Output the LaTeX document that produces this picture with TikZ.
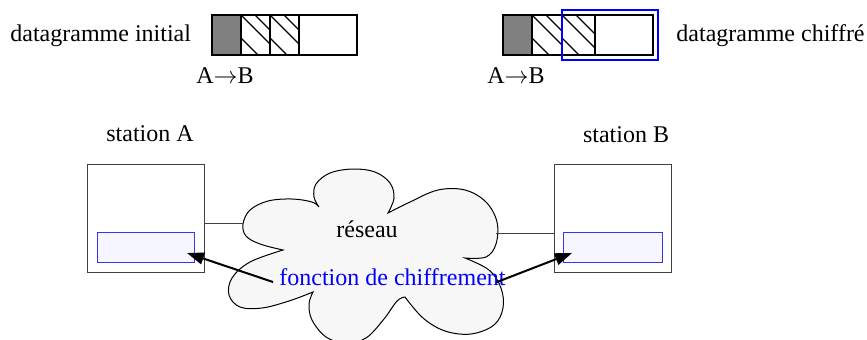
\documentclass[tikz,border=0pt]{standalone}
\usepackage{fontspec}
\setmainfont{Liberation Serif}
\usetikzlibrary{arrows.meta}
\definecolor{cloudfill}{HTML}{F7F7F7}
\definecolor{innerfill}{HTML}{F5F6FF}
\definecolor{innerblue}{HTML}{3333FF}
\definecolor{cellgray}{HTML}{808080}
\definecolor{boxgray}{HTML}{404040}
\begin{document}
\begin{tikzpicture}[x=0.5pt,y=-0.5pt,
  txt/.style={inner sep=0pt,font=\fontsize{12}{14}\selectfont},
  dgline/.style={line width=0.9pt,draw=black},
  hatch/.style={line width=0.7pt},
  stationbox/.style={draw=boxgray,line width=0.5pt,fill=white},
  innerbox/.style={draw=innerblue,line width=0.5pt,fill=innerfill},
  cloudshape/.style={draw=black,line width=0.5pt,fill=cloudfill},
  link/.style={draw=boxgray,line width=0.5pt},
  arr/.style={line width=1pt,-{Triangle[length=8.5pt,width=6pt]}},
  sel/.style={draw=blue,line width=0.9pt}
]
\useasboundingbox (0,0) rectangle (867,339);
\clip (0,0) rectangle (867,339);

% ---------- cloud ----------
\path[cloudshape]
  plot[smooth,tension=0.6] coordinates {(283,250) (260,244) (246,236) (243,224) (250,210) (268,201) (292,199) (312,202) (319,207)}
  -- plot[smooth,tension=0.6] coordinates {(319,207) (314,197) (316,184) (330,173) (353,169) (375,172) (390,183) (394,198) (388,213)}
  -- plot[smooth,tension=0.6] coordinates {(388,213) (410,202) (438,190) (465,190) (486,202) (497,222) (496,244) (486,257) (465,258)}
  -- plot[smooth,tension=0.6] coordinates {(465,258) (489,270) (501,288) (503,308) (494,325) (471,334) (445,331) (423,318) (405,297)}
  -- plot[smooth,tension=0.6] coordinates {(405,297) (397,301) (384,319) (366,338) (346,343) (326,337) (312,320) (309,304) (313,292)}
  -- plot[smooth,tension=0.6] coordinates {(313,292) (289,301) (262,308) (240,307) (229,295) (232,278) (250,262) (283,250)}
  -- cycle;

% ---------- stations ----------
\node[stationbox,anchor=north west,minimum width=58.5pt,minimum height=54pt,inner sep=0pt] (boxA) at (87,164) {};
\node[innerbox,anchor=north west,minimum width=48.5pt,minimum height=15pt,inner sep=0pt] (inA) at (97,232) {};
\node[stationbox,anchor=north west,minimum width=58.5pt,minimum height=54pt,inner sep=0pt] (boxB) at (554,164) {};
\node[innerbox,anchor=north west,minimum width=49.5pt,minimum height=15pt,inner sep=0pt] (inB) at (563,232) {};

\node[txt,anchor=base] (staA) at (150,141) {station A};
\node[txt,anchor=base] (staB) at (626,142) {station B};

% links to network
\coordinate (cloudL) at (243,223);
\coordinate (cloudR) at (496,233);
\draw[link] (boxA.east |- cloudL) -- (cloudL);
\draw[link] (cloudR) -- (boxB.west |- cloudR);

% ---------- texts in cloud ----------
\node[txt,anchor=base] (reseau) at (367,237) {réseau};
\node[txt,anchor=base west,text=blue] (fc) at (279,285) {fonction de chiffrement};

\coordinate (fcA) at (273,282);
\coordinate (fcB) at (497,282);
\coordinate (tipA) at (187,253);
\coordinate (tipB) at (572,253);
\draw[arr] (fcA) -- (tipA);
\draw[arr] (fcB) -- (tipB);

% ---------- initial datagram ----------
\node[txt,anchor=base west] (dginit) at (10,41) {datagramme initial};
\fill[cellgray] (212,15) rectangle (241,55);
\foreach \x in {241,270}{
  \begin{scope}
    \clip (\x,15) rectangle (\x+29,55);
    \draw[hatch] (\x,15) -- (\x+40,55);
    \draw[hatch] (\x+14,15) -- (\x+54,55);
    \draw[hatch] (\x,38) -- (\x+17,55);
  \end{scope}
}
\draw[dgline] (212,15) rectangle (357,55);
\draw[dgline] (241,15) -- (241,55);
\draw[dgline] (270,15) -- (270,55);
\draw[dgline] (299,15) -- (299,55);
\node[txt,anchor=base] (ab1) at (225,83) {A$\rightarrow$B};

% ---------- ciphered datagram ----------
\node[txt,anchor=base east] (dgchif) at (865,41) {datagramme chiffré};
\fill[cellgray] (503,15) rectangle (532,55);
\foreach \x/\w in {532/30,562/33}{
  \begin{scope}
    \clip (\x,15) rectangle (\x+\w,55);
    \draw[hatch] (\x,15) -- (\x+40,55);
    \draw[hatch] (\x+14,15) -- (\x+54,55);
    \draw[hatch] (\x,38) -- (\x+17,55);
  \end{scope}
}
\draw[dgline] (503,15) rectangle (653,55);
\draw[dgline] (532,15) -- (532,55);
\draw[dgline] (562,15) -- (562,55);
\draw[dgline] (595,15) -- (595,55);
\draw[sel] (562,10) rectangle (658,60);
\node[txt,anchor=base] (ab2) at (516,83) {A$\rightarrow$B};
\end{tikzpicture}
\end{document}
